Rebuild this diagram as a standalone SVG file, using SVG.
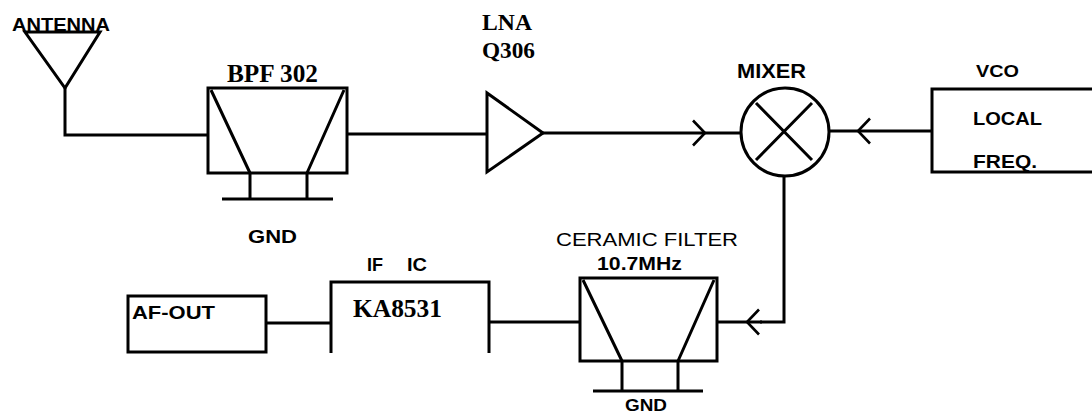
<svg xmlns="http://www.w3.org/2000/svg" width="1092" height="413" viewBox="0 0 1092 413">
<style>
.ln{fill:none;stroke:#000;stroke-width:3;stroke-linejoin:miter;stroke-linecap:butt}
.th{fill:none;stroke:#000;stroke-width:2.6}
.sb{font-family:"Liberation Sans",Arial,sans-serif;font-weight:bold;fill:#000}
.sr{font-family:"Liberation Sans",Arial,sans-serif;font-weight:normal;fill:#000}
.tb{font-family:"Liberation Serif","Times New Roman",serif;font-weight:bold;fill:#000}
</style>
<defs>
<marker id="chev" viewBox="-14 -15 16 30" markerWidth="16" markerHeight="30" refX="0" refY="0" markerUnits="userSpaceOnUse" orient="auto">
<path d="M-12,-12.5 L0,0 L-12,12.5" fill="none" stroke="#000" stroke-width="2.6"/>
</marker>
</defs>
<rect width="1092" height="413" fill="#fff"/>

<g id="connectors">
<path class="ln" d="M65,88 V135 H208"/>
<path class="ln" d="M347,134 H487"/>
<path class="ln" d="M543,133 L705,133 L741,133" marker-mid="url(#chev)"/>
<path class="ln" d="M932,131 L858,131 L829,131" marker-mid="url(#chev)"/>
<path class="ln" d="M784,176 V322 H760"/>
<path class="ln" d="M762,322 L747,322 L717,322" marker-mid="url(#chev)"/>
<path class="ln" d="M580,322 H489"/>
<path class="ln" d="M331,323 H266"/>
</g>

<g id="antenna">
<text class="sb" x="12" y="31" font-size="19" textLength="98" lengthAdjust="spacingAndGlyphs">ANTENNA</text>
<path class="ln" d="M25,32 H100 L65,88 Z"/>
</g>

<g id="bpf302">
<text class="tb" x="227" y="82" font-size="25" textLength="91" lengthAdjust="spacingAndGlyphs">BPF 302</text>
<rect class="ln" x="208" y="88" width="139" height="85"/>
<path class="ln" d="M211,90 L250,173 M344,90 L307,173 M250,173 V199 M307,173 V199 M222,199 H333"/>
<text class="sb" x="248" y="243" font-size="18" textLength="49" lengthAdjust="spacingAndGlyphs">GND</text>
</g>

<g id="lna">
<text class="tb" x="482" y="30" font-size="24" textLength="50" lengthAdjust="spacingAndGlyphs">LNA</text>
<text class="tb" x="482" y="58" font-size="24" textLength="53" lengthAdjust="spacingAndGlyphs">Q306</text>
<path class="ln" d="M487,93 V172 L543,133 Z"/>
</g>

<g id="mixer">
<text class="sb" x="737" y="78" font-size="20" textLength="69" lengthAdjust="spacingAndGlyphs">MIXER</text>
<circle class="ln" cx="785" cy="132" r="44"/>
<path class="ln" d="M756,103 L812,160 M812,103 L756,160"/>
</g>

<g id="vco">
<text class="sb" x="976" y="77" font-size="17" textLength="43" lengthAdjust="spacingAndGlyphs">VCO</text>
<path class="ln" d="M1096,89 H932 V172 H1096"/>
<text class="sb" x="973" y="125" font-size="18" textLength="69" lengthAdjust="spacingAndGlyphs">LOCAL</text>
<text class="sb" x="973" y="168" font-size="18" textLength="64" lengthAdjust="spacingAndGlyphs">FREQ.</text>
</g>

<g id="ceramic-filter">
<text class="sr" x="556" y="246" font-size="19" textLength="182" lengthAdjust="spacingAndGlyphs">CERAMIC FILTER</text>
<text class="sb" x="597" y="270" font-size="18" textLength="85" lengthAdjust="spacingAndGlyphs">10.7MHz</text>
<rect class="ln" x="580" y="278" width="137" height="83"/>
<path class="ln" d="M583,280 L622,361 M714,280 L678,361 M622,361 V391 M678,361 V391 M593,391 H703"/>
<text class="sb" x="625" y="411" font-size="17" textLength="42" lengthAdjust="spacingAndGlyphs">GND</text>
</g>

<g id="if-ic">
<text class="sb" x="367" y="271" font-size="18" textLength="16" lengthAdjust="spacingAndGlyphs">IF</text>
<text class="sb" x="407" y="271" font-size="18" textLength="20" lengthAdjust="spacingAndGlyphs">IC</text>
<path class="ln" d="M331,353 V282 H489 V353"/>
<text class="tb" x="353" y="317" font-size="25" textLength="89" lengthAdjust="spacingAndGlyphs">KA8531</text>
</g>

<g id="af-out">
<rect class="ln" x="128" y="296" width="138" height="56"/>
<text class="sb" x="132" y="319" font-size="19" textLength="83" lengthAdjust="spacingAndGlyphs">AF-OUT</text>
</g>
</svg>
